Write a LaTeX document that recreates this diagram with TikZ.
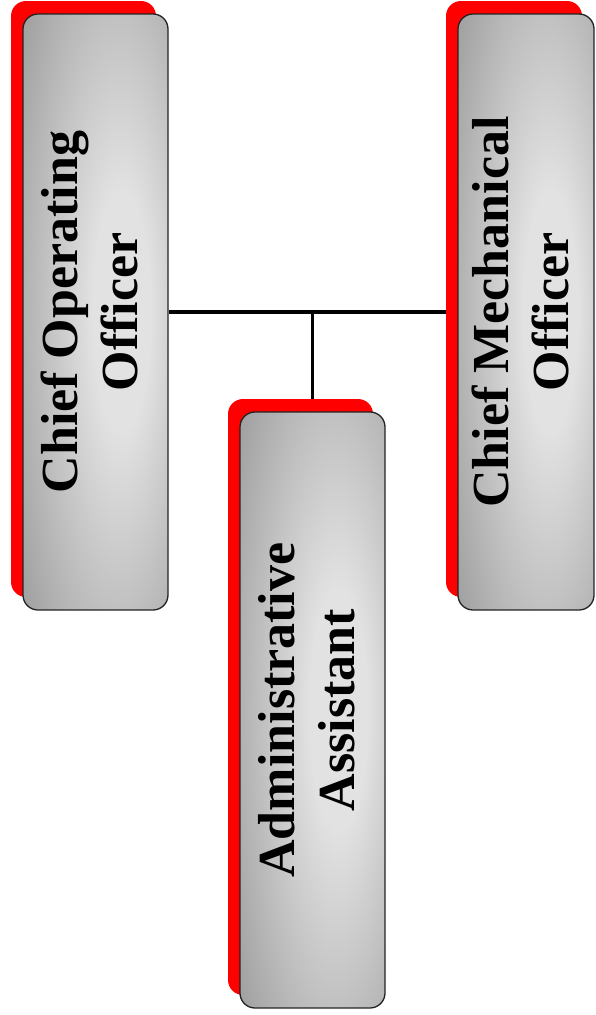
\documentclass[tikz,border=0pt]{standalone}
\usepackage{fontspec}
\setmainfont{Liberation Serif}
\usetikzlibrary{shadows,backgrounds}
\definecolor{boxdark}{RGB}{150,150,150}
\definecolor{boxlight}{RGB}{226,226,226}
\definecolor{edgegray}{RGB}{35,35,35}
\pgfdeclareradialshading{boxglow}{\pgfpoint{10bp}{0bp}}{color(0bp)=(boxlight); color(10bp)=(boxlight); color(44bp)=(boxdark); color(100bp)=(boxdark)}
\begin{document}
\begin{tikzpicture}[x=1pt,y=-1pt,
  orgbox/.style={draw=edgegray, line width=1.3pt, rounded corners=15pt, shading=boxglow,
    minimum width=145pt, minimum height=596pt, inner sep=0pt,
    general shadow={fill=red, shadow xshift=-12pt, shadow yshift=13pt},
    font=\fontsize{52}{60}\selectfont\bfseries},
  link/.style={line width=3.5pt, black}]
\useasboundingbox (0,0) rectangle (595,1015);
\node[orgbox] (coo) at (95.5,312) {\rotatebox{90}{\begin{tabular}{@{}c@{}}Chief Operating\\Officer\end{tabular}}};
\node[orgbox, minimum width=136pt] (cmo) at (526,312) {\rotatebox{90}{\begin{tabular}{@{}c@{}}Chief Mechanical\\Officer\end{tabular}}};
\node[orgbox] (aa) at (312.5,710) {\rotatebox{90}{\begin{tabular}{@{}c@{}}Administrative\\Assistant\end{tabular}}};
\coordinate (j) at (aa.north |- coo.east);
\begin{scope}[on background layer]
\draw[link] (coo) -- (cmo);
\draw[link] (j) -- (aa.north);
\end{scope}
\end{tikzpicture}
\end{document}
